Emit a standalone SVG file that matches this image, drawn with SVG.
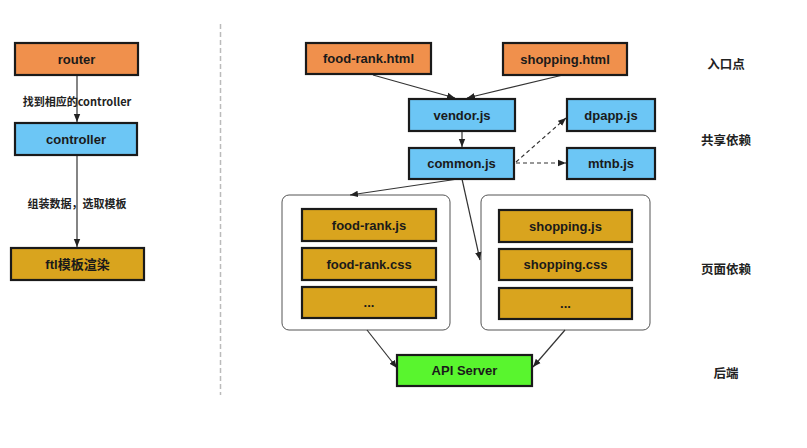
<svg xmlns="http://www.w3.org/2000/svg" width="807" height="448" viewBox="0 0 807 448">
<style>
.box{stroke:#1a1a1a;stroke-width:2.2}
.or{fill:#F0904C}
.bl{fill:#6CC6F5}
.go{fill:#D9A41E}
.gr{fill:#59F52E}
.grp{fill:#fff;stroke:#555;stroke-width:1}
.t{font-family:"Liberation Sans","Noto Sans CJK SC",sans-serif;font-weight:bold;font-size:13px;fill:#1a1a1a;text-anchor:middle;dominant-baseline:central}
.lb{font-family:"Noto Sans CJK SC","Liberation Sans",sans-serif;font-weight:bold;font-size:11px;fill:#222;text-anchor:middle;dominant-baseline:central}
.rl{font-family:"Noto Sans CJK SC",sans-serif;font-weight:bold;font-size:12.5px;fill:#222;text-anchor:middle;dominant-baseline:central}
.ln{stroke:#333;stroke-width:1.2;fill:none}
.dl{stroke:#333;stroke-width:1.2;fill:none;stroke-dasharray:4 3}
</style>
<defs>
<marker id="ah" viewBox="0 0 10 10" refX="10" refY="5" markerWidth="8" markerHeight="8" markerUnits="userSpaceOnUse" orient="auto">
<path d="M0,1 L10,5 L0,9 Z" fill="#222"/>
</marker>
</defs>
<rect width="807" height="448" fill="#fff"/>
<line x1="220.5" y1="24" x2="220.5" y2="395" stroke="#bbb" stroke-width="1.5" stroke-dasharray="5 3"/>

<g id="group-left">
<rect class="grp" x="282" y="195" width="168" height="135" rx="7"/>
</g>
<g id="group-right">
<rect class="grp" x="481" y="195" width="169" height="135" rx="7"/>
</g>

<g id="connectors">
<line class="ln" x1="77" y1="75" x2="77" y2="122" marker-end="url(#ah)"/>
<line class="ln" x1="77" y1="155" x2="77" y2="247" marker-end="url(#ah)"/>
<line class="ln" x1="373" y1="75" x2="455" y2="98" marker-end="url(#ah)"/>
<line class="ln" x1="563" y1="75" x2="467" y2="98" marker-end="url(#ah)"/>
<line class="ln" x1="462" y1="132" x2="462" y2="147" marker-end="url(#ah)"/>
<line class="dl" x1="516" y1="162" x2="566" y2="118" marker-end="url(#ah)"/>
<line class="dl" x1="516" y1="163" x2="566" y2="163" marker-end="url(#ah)"/>
<line class="ln" x1="458" y1="179" x2="350" y2="195" marker-end="url(#ah)"/>
<line class="ln" x1="462" y1="179" x2="480" y2="260" marker-end="url(#ah)"/>
<line class="ln" x1="367" y1="330" x2="397" y2="368" marker-end="url(#ah)"/>
<line class="ln" x1="565" y1="330" x2="533" y2="367" marker-end="url(#ah)"/>
</g>

<g id="router"><rect class="box or" x="15" y="43" width="123" height="32"/><text class="t" x="76.5" y="59">router</text></g>
<g id="controller"><rect class="box bl" x="15" y="123" width="122" height="32"/><text class="t" x="76" y="139">controller</text></g>
<g id="ftl"><rect class="box go" x="11" y="248" width="133" height="32"/><text class="t" x="77.5" y="264">ftl模板渲染</text></g>
<text class="lb" x="77" y="101">找到相应的controller</text>
<text class="lb" x="77" y="203">组装数据，选取模板</text>

<g id="food-rank-html"><rect class="box or" x="306" y="43" width="125" height="31"/><text class="t" x="368.5" y="58.5">food-rank.html</text></g>
<g id="shopping-html"><rect class="box or" x="503" y="43" width="124" height="32"/><text class="t" x="565" y="59">shopping.html</text></g>
<g id="vendor-js"><rect class="box bl" x="409" y="99" width="106" height="32"/><text class="t" x="462" y="115">vendor.js</text></g>
<g id="common-js"><rect class="box bl" x="409" y="148" width="105" height="31"/><text class="t" x="461.5" y="163.5">common.js</text></g>
<g id="dpapp-js"><rect class="box bl" x="567" y="99" width="88" height="32"/><text class="t" x="611" y="115">dpapp.js</text></g>
<g id="mtnb-js"><rect class="box bl" x="567" y="148" width="88" height="31"/><text class="t" x="611" y="163.5">mtnb.js</text></g>

<g id="food-rank-js"><rect class="box go" x="302" y="209" width="134" height="32"/><text class="t" x="369" y="225">food-rank.js</text></g>
<g id="food-rank-css"><rect class="box go" x="302" y="248" width="134" height="32"/><text class="t" x="369" y="264">food-rank.css</text></g>
<g id="food-rank-more"><rect class="box go" x="302" y="287" width="134" height="31"/><text class="t" x="369" y="302.5">...</text></g>
<g id="shopping-js"><rect class="box go" x="499" y="210" width="133" height="32"/><text class="t" x="565.5" y="226">shopping.js</text></g>
<g id="shopping-css"><rect class="box go" x="499" y="249" width="133" height="31"/><text class="t" x="565.5" y="264.5">shopping.css</text></g>
<g id="shopping-more"><rect class="box go" x="499" y="288" width="133" height="31"/><text class="t" x="565.5" y="303.5">...</text></g>

<g id="api-server"><rect class="box gr" x="397" y="355" width="135" height="31"/><text class="t" x="464.5" y="370.5">API Server</text></g>

<text class="rl" x="726" y="63">入口点</text>
<text class="rl" x="726" y="139">共享依赖</text>
<text class="rl" x="726" y="268">页面依赖</text>
<text class="rl" x="726" y="372">后端</text>
</svg>
